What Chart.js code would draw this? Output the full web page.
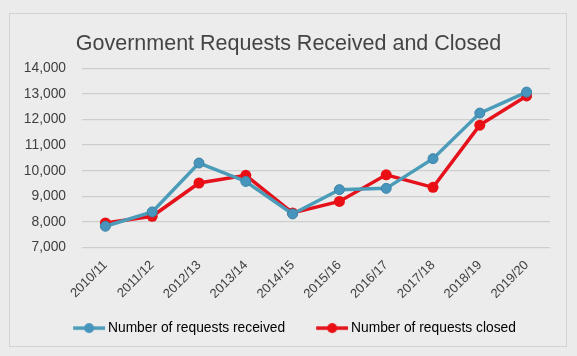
<!DOCTYPE html>
<html>
<head>
<meta charset="utf-8">
<script src="https://cdn.jsdelivr.net/npm/chart.js@4"></script>
<style>
  html, body { margin: 0; padding: 0; background: #ebebeb; }
  #wrap { position: relative; width: 577px; height: 356px; overflow: hidden; }
  #panel { position: absolute; left: 9px; top: 13px; width: 556px; height: 332px; border: 1px solid #d2d2d2; background: #ececec; }
  #c { position: absolute; left: 0; top: 0; }
</style>
</head>
<body>
<div id="wrap">
  <div id="panel"></div>
  <canvas id="c" width="577" height="356"></canvas>
</div>
<script>
const categories = ['2010/11','2011/12','2012/13','2013/14','2014/15','2015/16','2016/17','2017/18','2018/19','2019/20'];
const received = [7830, 8390, 10300, 9580, 8310, 9260, 9310, 10470, 12250, 13070];
const closed = [7960, 8220, 9520, 9820, 8350, 8800, 9840, 9350, 11780, 12920];
const seriesNames = ['Number of requests received', 'Number of requests closed'];
const title = 'Government Requests Received and Closed';

const teal = '#4b9cb9', tealPt = '#4795bc', tealBorder = '#3d84a6';
const red = '#e5111b', redPt = '#ea0f15';

// legend marker: 48px canvas, visible line+dot in its right 32px
function legendIcon(lineColor, ptColor, r) {
  const cv = document.createElement('canvas');
  cv.width = 48; cv.height = 14;
  const g = cv.getContext('2d');
  g.strokeStyle = lineColor; g.lineWidth = 3.5;
  g.beginPath(); g.moveTo(16, 7); g.lineTo(48, 7); g.stroke();
  g.fillStyle = ptColor;
  g.beginPath(); g.arc(32, 7, r, 0, Math.PI * 2); g.fill();
  return cv;
}
const icons = [legendIcon(teal, tealPt, 5), legendIcon(red, redPt, 5)];

const FONT = '"Liberation Sans", Arial, Helvetica, sans-serif';

new Chart(document.getElementById('c'), {
  type: 'line',
  data: {
    labels: categories,
    datasets: [
      {
        label: seriesNames[0], data: received,
        borderColor: teal, backgroundColor: tealPt, borderWidth: 3.5,
        pointRadius: 5, pointBackgroundColor: tealPt, pointBorderColor: tealBorder, pointBorderWidth: 1,
        tension: 0
      },
      {
        label: seriesNames[1], data: closed,
        borderColor: red, backgroundColor: redPt, borderWidth: 3.5,
        pointRadius: 5.5, pointBackgroundColor: redPt, pointBorderColor: redPt, pointBorderWidth: 0,
        tension: 0
      }
    ]
  },
  options: {
    responsive: false,
    animation: false,
    layout: { padding: { left: 0, right: 0, top: 0, bottom: 11 } },
    plugins: {
      title: {
        display: true, text: title, color: '#444444',
        font: { family: FONT, size: 21.5, weight: 'normal' },
        padding: { top: 31, bottom: 11.5 }
      },
      legend: {
        display: true, position: 'bottom',
        labels: {
          color: '#3a3a3a',
          font: { family: FONT, size: 13.8 },
          usePointStyle: true, pointStyleWidth: 40, padding: 19,
          generateLabels: (chart) => chart.data.datasets.map((ds, i) => ({
            text: ds.label, datasetIndex: i, pointStyle: icons[i],
            fillStyle: ds.borderColor, strokeStyle: ds.borderColor, lineWidth: 0, hidden: false
          }))
        }
      },
      tooltip: { enabled: false }
    },
    scales: {
      x: {
        offset: true,
        grid: { display: false, offset: true, drawTicks: false },
        border: { display: false },
        ticks: {
          color: '#3f3f3f', font: { family: FONT, size: 13 },
          maxRotation: 45, minRotation: 45, padding: 10, autoSkip: false
        },
        afterFit: (s) => { s.height = 54.7; }
      },
      y: {
        min: 7000, max: 14000,
        grid: { color: '#cdcdcd', lineWidth: 1.3, drawTicks: false },
        border: { display: false },
        ticks: {
          stepSize: 1000, padding: 16, color: '#3f3f3f',
          font: { family: FONT, size: 13.8 },
          callback: (v) => v.toLocaleString('en-US')
        },
        afterFit: (s) => { s.width = 82; }
      },
      yRight: {
        position: 'right', min: 0, max: 1,
        grid: { display: false, drawTicks: false },
        border: { display: false },
        ticks: { display: false },
        afterFit: (s) => { s.width = 27; }
      }
    }
  }
});
</script>
</body>
</html>
